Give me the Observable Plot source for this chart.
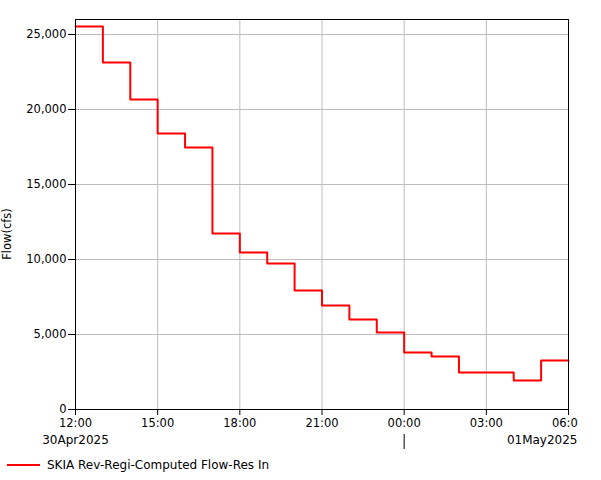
<!DOCTYPE html>
<html><head><meta charset="utf-8">
<script src="https://cdn.jsdelivr.net/npm/d3@7"></script>
<script src="https://cdn.jsdelivr.net/npm/@observablehq/plot@0.6"></script>
<style>
body{margin:0;background:#fff;font-family:"DejaVu Sans",sans-serif;}
#legend svg{display:block;}
</style></head><body>
<div id="chart"></div>
<div id="legend"></div>
<script>
const seriesName = "SKIA Rev-Regi-Computed Flow-Res In";
const yLabel = "Flow(cfs)";
const times = [
  "2025-04-30T12:00Z","2025-04-30T13:00Z","2025-04-30T14:00Z","2025-04-30T15:00Z",
  "2025-04-30T16:00Z","2025-04-30T17:00Z","2025-04-30T18:00Z","2025-04-30T19:00Z",
  "2025-04-30T20:00Z","2025-04-30T21:00Z","2025-04-30T22:00Z","2025-04-30T23:00Z",
  "2025-05-01T00:00Z","2025-05-01T01:00Z","2025-05-01T02:00Z","2025-05-01T03:00Z",
  "2025-05-01T04:00Z","2025-05-01T05:00Z","2025-05-01T06:00Z"
];
const flows = [25530, 23130, 20670, 18400, 17470, 11730, 10470, 9730, 7930, 6930,
  6000, 5130, 3800, 3530, 2470, 2470, 1930, 3270, 3270];
const xTicks = ["2025-04-30T12:00Z","2025-04-30T15:00Z","2025-04-30T18:00Z","2025-04-30T21:00Z",
  "2025-05-01T00:00Z","2025-05-01T03:00Z","2025-05-01T06:00Z"];
const yTicks = [0, 5000, 10000, 15000, 20000, 25000];
const startDate = {t: "2025-04-30T12:00Z", label: "30Apr2025"};
const endDate = {t: "2025-05-01T06:00Z", label: "01May2025"};
const dayBreaks = ["2025-05-01T00:00Z"];

const data = times.map((t, i) => ({t: new Date(t), v: flows[i]}));
const xt = xTicks.map(d => new Date(d));
const fmtT = d3.utcFormat("%H:%M");
const font = "DejaVu Sans";

const chart = Plot.plot({
  width: 578, height: 450,
  marginLeft: 75, marginRight: 10, marginTop: 19, marginBottom: 41,
  style: {fontFamily: font, fontSize: "11px", overflow: "hidden", background: "white", color: "black"},
  x: {type: "utc", domain: [new Date(times[0]), new Date(times[times.length - 1])]},
  y: {domain: [0, 26000]},
  marks: [
    Plot.gridX(xt, {stroke: "#bdbdbd", strokeOpacity: 1}),
    Plot.gridY(yTicks, {stroke: "#bdbdbd", strokeOpacity: 1}),
    Plot.lineY(data, {x: "t", y: "v", curve: "step-after", stroke: "red", strokeWidth: 2}),
    Plot.frame({stroke: "black"}),
    Plot.axisY({ticks: yTicks, tickFormat: d3.format(","), tickSize: 7, tickPadding: 2, label: null, fontSize: 11.5}),
    Plot.axisX({ticks: xt, tickFormat: fmtT, tickSize: 6, tickPadding: 3, label: null, fontSize: 11.5}),
    Plot.axisX({ticks: dayBreaks.map(d => new Date(d)), tickFormat: () => "", tickSize: 15, dy: 25, label: null}),
    Plot.text([startDate], {x: d => new Date(d.t), frameAnchor: "bottom", text: "label", textAnchor: "middle", dy: 31, lineAnchor: "middle", fontSize: 12}),
    Plot.text([endDate], {x: d => new Date(d.t), frameAnchor: "bottom", text: "label", textAnchor: "end", dx: 9, dy: 31, lineAnchor: "middle", fontSize: 12})
  ]
});
document.getElementById("chart").appendChild(chart);

d3.select(chart).append("text")
  .attr("transform", "translate(7,234) rotate(-90)")
  .attr("text-anchor", "middle").attr("dy", "0.35em")
  .attr("font-family", font).attr("font-size", 11.5).attr("fill", "black")
  .text(yLabel);

const legend = d3.select("#legend").append("svg").attr("width", 601).attr("height", 30);
legend.append("line").attr("x1", 7).attr("x2", 40).attr("y1", 15).attr("y2", 15).attr("stroke", "red").attr("stroke-width", 2);
legend.append("text").attr("x", 47).attr("y", 15).attr("dy", "0.35em").attr("font-family", font).attr("font-size", 12).text(seriesName);
</script>
</body></html>
